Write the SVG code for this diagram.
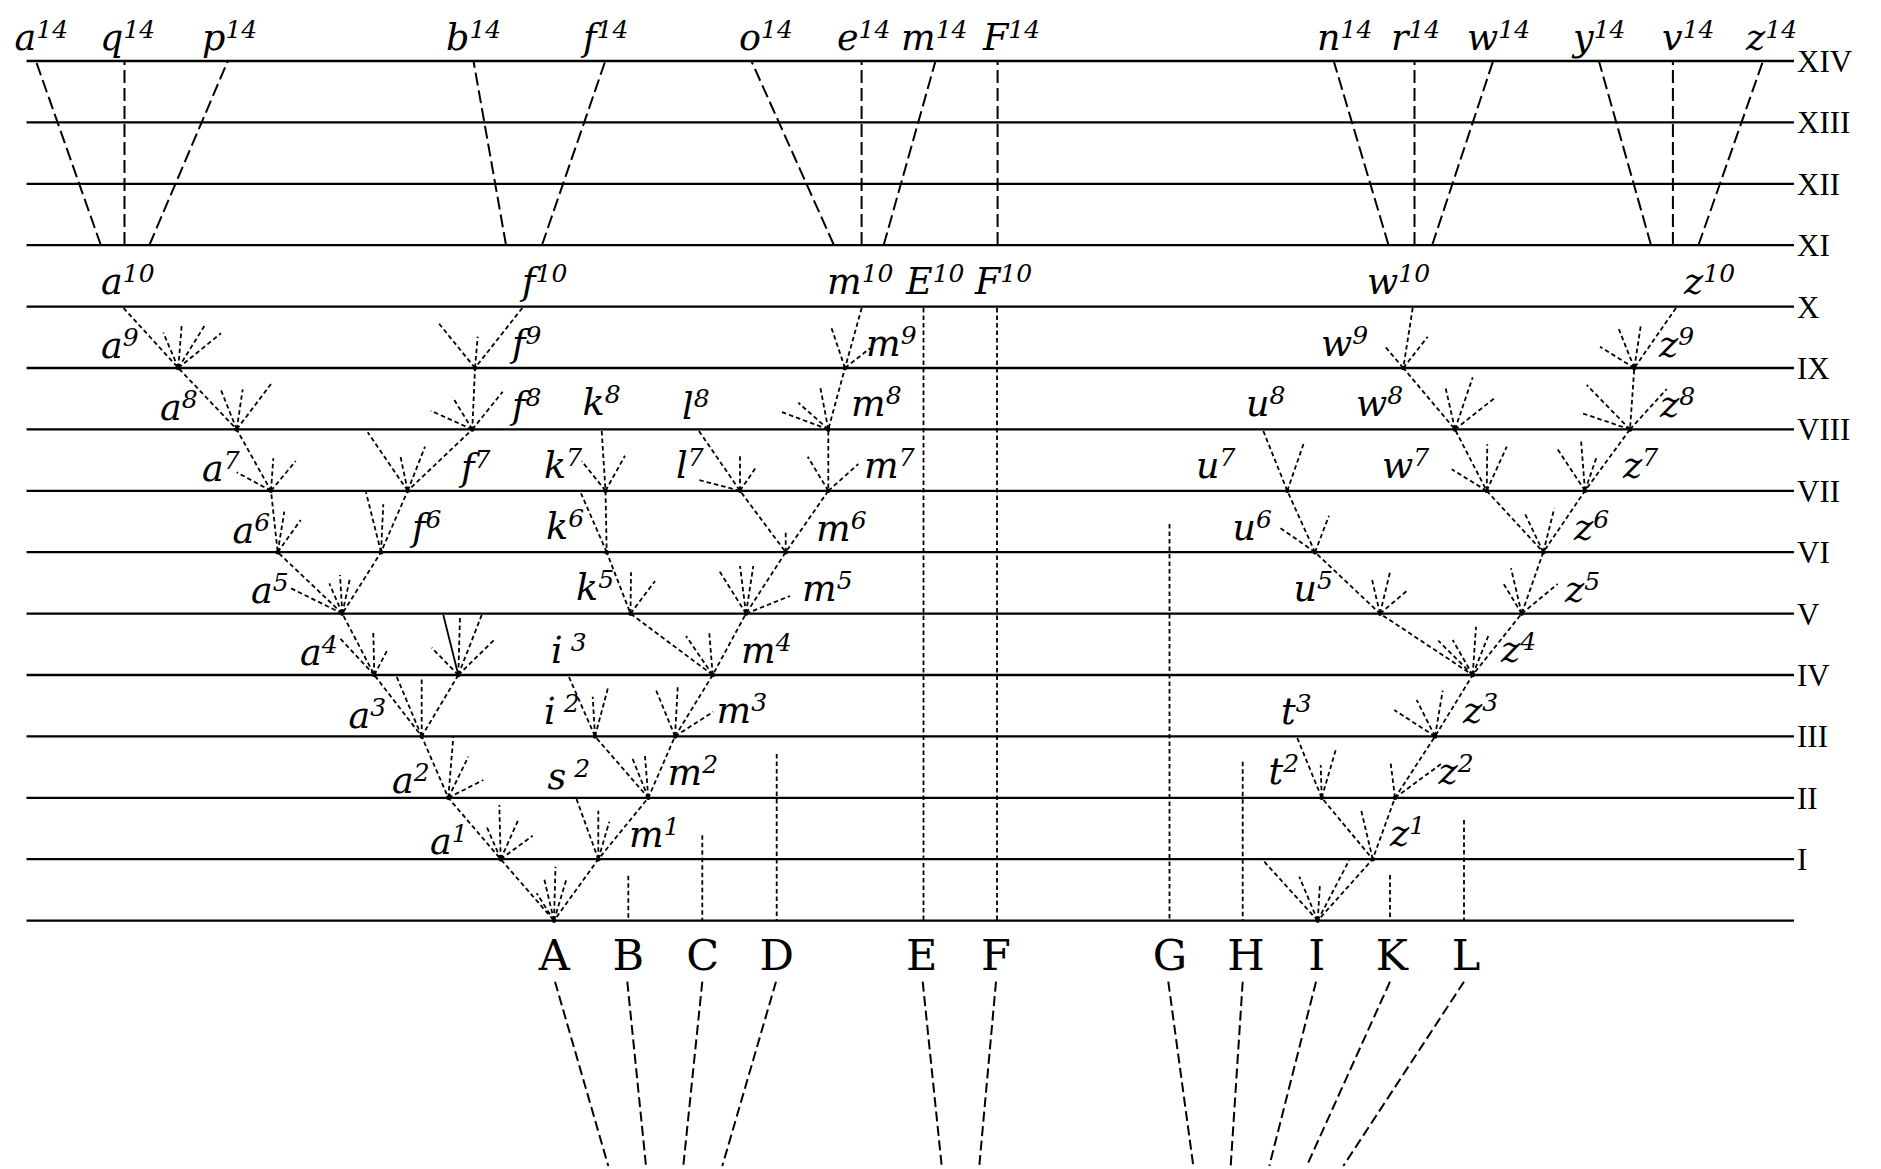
<svg xmlns="http://www.w3.org/2000/svg" width="1881" height="1169" viewBox="0 0 1881 1169">
<style>
.h{stroke:#000;stroke-width:2.3;fill:none}
.d{stroke:#000;stroke-width:1.8;stroke-dasharray:4.5 3;fill:none}
.s{stroke:#000;stroke-width:1.8;fill:none}
.ld{stroke:#000;stroke-width:2;stroke-dasharray:13 5;fill:none}
.bd{stroke:#000;stroke-width:2;stroke-dasharray:10 4.5;fill:none}
.lbl{font-family:"DejaVu Serif","Liberation Serif",serif;font-style:italic;font-size:36.5px;fill:#000}
.sup{font-size:25px}
.rn{font-family:"Liberation Serif","DejaVu Serif",serif;font-size:31px;fill:#000}
.bl{font-family:"DejaVu Serif","Liberation Serif",serif;font-size:43px;text-anchor:middle;fill:#000}
.dot{fill:#000}
</style>
<rect width="1881" height="1169" fill="#fff"/>
<g id="grid">
<path class="h" d="M26.5 61H1794M26.5 122.4H1794M26.5 183.8H1794M26.5 245.2H1794M26.5 306.6H1794M26.5 368H1794M26.5 429.4H1794M26.5 490.8H1794M26.5 552.2H1794M26.5 613.6H1794M26.5 675H1794M26.5 736.4H1794M26.5 797.8H1794M26.5 859.2H1794M26.5 920.6H1794"/>
<text class="rn" x="1797" y="72">XIV</text>
<text class="rn" x="1797" y="133.4">XIII</text>
<text class="rn" x="1797" y="194.8">XII</text>
<text class="rn" x="1797" y="256.2">XI</text>
<text class="rn" x="1797" y="317.6">X</text>
<text class="rn" x="1797" y="379">IX</text>
<text class="rn" x="1797" y="440.4">VIII</text>
<text class="rn" x="1797" y="501.8">VII</text>
<text class="rn" x="1797" y="563.2">VI</text>
<text class="rn" x="1797" y="624.6">V</text>
<text class="rn" x="1797" y="686">IV</text>
<text class="rn" x="1797" y="747.4">III</text>
<text class="rn" x="1797" y="808.8">II</text>
<text class="rn" x="1797" y="870.2">I</text>
</g>
<g id="connectors">
<path class="ld" d="M100.8 245L35.9 61M124.5 245L124.5 61M149.4 245L227.8 61M506 245L473.5 61M542 245L605.3 61M833.9 245L751.4 61M861.6 245L861.6 61M883.7 245L935.5 61M997.6 245L997.6 61M1388.5 245L1333.7 61M1414.5 245L1414.5 61M1432.2 245L1493.1 61M1651 245L1598.9 61M1672.9 245L1672.9 61M1698.5 245L1763 61"/>
<path class="d" d="M123.5 308L178.3 368L236.7 429.4L271 490.8L277.7 552.2L342.3 613.6L374.3 675L421.7 736.4L448.3 797.8L500.7 859.2L554 920.6"/>
<path class="d" d="M522.3 308L475 368L472.3 429.4L407.7 490.8L381 552.2L342.3 613.6"/>
<path class="d" d="M458.3 675L421.7 736.4"/>
<path class="d" d="M601.7 431L605.5 490.8L606.7 552.2L630.5 613.6L712.7 675"/>
<path class="d" d="M699 431L740 490.8L785.7 552.2"/>
<path class="d" d="M861.7 308L845 368L828.3 429.4L828.3 490.8L785.7 552.2L746 613.6L712.7 675L675 736.4L648.3 797.8L598.3 859.2L554 920.6"/>
<path class="d" d="M569 677L595 736.4L648.3 797.8"/>
<path class="d" d="M576.5 799L598.3 859.2"/>
<path class="d" d="M1412.7 308L1403.3 368L1455 429.4L1486.7 490.8L1543.3 552.2"/>
<path class="d" d="M1676 308L1634.3 368L1630 429.4L1585 490.8L1543.3 552.2L1521.7 613.6L1472.7 675L1435 736.4L1395 797.8L1372.7 859.2L1317.7 920.6"/>
<path class="d" d="M1263.3 431L1287.3 490.8L1315 552.2L1380 613.6L1472.7 675"/>
<path class="d" d="M1297.3 738L1321.7 797.8L1372.7 859.2"/>
<path class="s" d="M443.3 615L458.3 675"/>
<path class="d" d="M178.3 368L163.3 332.7M178.3 368L181.7 325M178.3 368L205 325M178.3 368L221 333.3
M236.7 429.4L220.7 389.3M236.7 429.4L242.7 389.3M236.7 429.4L271 384
M271 490.8L236.7 472.3M271 490.8L273.3 458.3M271 490.8L295.7 461
M277.7 552.2L284.3 511.7M277.7 552.2L300.7 520
M342.3 613.6L289 587.3M342.3 613.6L329.3 583.3M342.3 613.6L340 575M342.3 613.6L350 578
M374.3 675L340 638.3M374.3 675L373.3 632.3M374.3 675L387.7 649.3
M458.3 675L460 616.7M458.3 675L481.7 615M458.3 675L431.7 647.7M458.3 675L495 639
M421.7 736.4L396.7 676.7M421.7 736.4L421.7 676.7
M448.3 797.8L453.3 736.7M448.3 797.8L468.3 756.7M448.3 797.8L483.3 780
M500.7 859.2L486.7 826.7M500.7 859.2L499.3 805M500.7 859.2L519 818.3M500.7 859.2L532.7 835.7
M554 920.6L536.7 893.3M554 920.6L544 878M554 920.6L555.5 866.7M554 920.6L566.7 878.3
M475 368L438.3 322.7M475 368L477.7 336.7
M472.3 429.4L430.7 410.7M472.3 429.4L452.7 397.3M472.3 429.4L502.7 391.7
M407.7 490.8L367.7 432.3M407.7 490.8L400 454.3M407.7 490.8L425 446.7
M381 552.2L366 492.3M381 552.2L383.3 504.3
M605.5 490.8L581.7 461M605.5 490.8L625 455.7
M606.7 552.2L581 493.3
M630.5 613.6L631 572.3M630.5 613.6L655 581
M740 490.8L699 480M740 490.8L740 453.3M740 490.8L755.3 468.3
M845 368L830.7 325.7M845 368L870 348.3
M828.3 429.4L780.7 411.7M828.3 429.4L798.3 402.7M828.3 429.4L820 385.7
M828.3 490.8L807.7 456.7M828.3 490.8L858.3 464
M785.7 552.2L785.7 530
M746 613.6L718.3 569.3M746 613.6L740 566M746 613.6L753.3 566M746 613.6L790 596
M712.7 675L686 636M712.7 675L709.3 633.3
M675 736.4L656 690M675 736.4L677.7 687.3M675 736.4L713.3 711.7
M595 736.4L592.7 696.7M595 736.4L608.3 686.7
M648.3 797.8L631.7 756.7M648.3 797.8L645 756
M598.3 859.2L598.3 810.7M598.3 859.2L609.3 821.7
M1403.3 368L1385.7 347.3M1403.3 368L1427.7 336.7
M1455 429.4L1445.7 388.3M1455 429.4L1472.7 377.3M1455 429.4L1494.3 398.3
M1486.7 490.8L1451.7 469.3M1486.7 490.8L1487.3 444.3M1486.7 490.8L1506.7 446.7
M1543.3 552.2L1524.3 512.3M1543.3 552.2L1554.3 508.3
M1634.3 368L1600 346.7M1634.3 368L1618.3 327.7M1634.3 368L1641 324.3
M1630 429.4L1582.3 413.3M1630 429.4L1586.7 385M1630 429.4L1666.7 389
M1585 490.8L1557.7 449.3M1585 490.8L1581 440M1585 490.8L1596.7 456.7
M1521.7 613.6L1503.3 583.3M1521.7 613.6L1511 568.3M1521.7 613.6L1557.7 584
M1287.3 490.8L1304.3 441.7
M1315 552.2L1279.3 527.3M1315 552.2L1329 515.7
M1380 613.6L1371.7 578.3M1380 613.6L1390 572.3M1380 613.6L1406.7 591
M1472.7 675L1438.3 640.7M1472.7 675L1452.7 640M1472.7 675L1476 626.7M1472.7 675L1489.3 633.3
M1435 736.4L1394.3 710M1435 736.4L1416.7 700M1435 736.4L1442.7 690.7
M1395 797.8L1390.7 763.3M1395 797.8L1441 764
M1321.7 797.8L1320.7 765M1321.7 797.8L1336 749
M1372.7 859.2L1360.7 808.3
M1317.7 920.6L1264.3 861.7M1317.7 920.6L1299.3 876.7M1317.7 920.6L1320 883.3M1317.7 920.6L1349.3 860"/>
<path class="d" d="M923.5 308V920.6M997 308V920.6M628.3 875.7V920.6M702.3 835.3V920.6M776.7 754V920.6M1169.5 524V920.6M1242.7 761.7V920.6M1390 875V920.6M1464 820V920.6"/>
<path class="bd" d="M555 981.7L608.3 1166M627.3 981.7L646 1166M702.3 981.7L683.3 1166M776 981.7L722.3 1166M922.7 981.7L941.7 1166M996 981.7L979.3 1166M1168.3 981.7L1193.3 1166M1242.7 981.7L1230.7 1166M1316 981.7L1269.3 1166M1390 981.7L1306.7 1166M1464 981.7L1343.3 1166"/>
<g class="dot">
<circle cx="178.3" cy="368" r="2.3"/><circle cx="236.7" cy="429.4" r="2.3"/><circle cx="271" cy="490.8" r="2.3"/><circle cx="277.7" cy="552.2" r="2.3"/><circle cx="342.3" cy="613.6" r="2.3"/><circle cx="374.3" cy="675" r="2.3"/><circle cx="458.3" cy="675" r="2.3"/><circle cx="421.7" cy="736.4" r="2.3"/><circle cx="448.3" cy="797.8" r="2.3"/><circle cx="500.7" cy="859.2" r="2.3"/><circle cx="554" cy="920.6" r="2.3"/>
<circle cx="475" cy="368" r="2.3"/><circle cx="472.3" cy="429.4" r="2.3"/><circle cx="407.7" cy="490.8" r="2.3"/><circle cx="381" cy="552.2" r="2.3"/>
<circle cx="605.5" cy="490.8" r="2.3"/><circle cx="606.7" cy="552.2" r="2.3"/><circle cx="630.5" cy="613.6" r="2.3"/><circle cx="740" cy="490.8" r="2.3"/>
<circle cx="845" cy="368" r="2.3"/><circle cx="828.3" cy="429.4" r="2.3"/><circle cx="828.3" cy="490.8" r="2.3"/><circle cx="785.7" cy="552.2" r="2.3"/><circle cx="746" cy="613.6" r="2.3"/><circle cx="712.7" cy="675" r="2.3"/><circle cx="675" cy="736.4" r="2.3"/><circle cx="648.3" cy="797.8" r="2.3"/><circle cx="598.3" cy="859.2" r="2.3"/><circle cx="595" cy="736.4" r="2.3"/>
<circle cx="1403.3" cy="368" r="2.3"/><circle cx="1455" cy="429.4" r="2.3"/><circle cx="1486.7" cy="490.8" r="2.3"/><circle cx="1543.3" cy="552.2" r="2.3"/>
<circle cx="1634.3" cy="368" r="2.3"/><circle cx="1630" cy="429.4" r="2.3"/><circle cx="1585" cy="490.8" r="2.3"/><circle cx="1521.7" cy="613.6" r="2.3"/><circle cx="1472.7" cy="675" r="2.3"/><circle cx="1435" cy="736.4" r="2.3"/><circle cx="1395" cy="797.8" r="2.3"/><circle cx="1372.7" cy="859.2" r="2.3"/><circle cx="1317.7" cy="920.6" r="2.3"/>
<circle cx="1287.3" cy="490.8" r="2.3"/><circle cx="1315" cy="552.2" r="2.3"/><circle cx="1380" cy="613.6" r="2.3"/><circle cx="1321.7" cy="797.8" r="2.3"/>
</g>
</g>
<g id="n-a14"><text class="lbl" x="14.5" y="50">a<tspan class="sup" dy="-12">14</tspan></text></g>
<g id="n-q14"><text class="lbl" x="100" y="50">q<tspan class="sup" dy="-12">14</tspan></text></g>
<g id="n-p14"><text class="lbl" x="202" y="50">p<tspan class="sup" dy="-12">14</tspan></text></g>
<g id="n-b14"><text class="lbl" x="446" y="50">b<tspan class="sup" dy="-12">14</tspan></text></g>
<g id="n-f14"><text class="lbl" x="583" y="50">f<tspan class="sup" dy="-12">14</tspan></text></g>
<g id="n-o14"><text class="lbl" x="739" y="50">o<tspan class="sup" dy="-12">14</tspan></text></g>
<g id="n-e14"><text class="lbl" x="837" y="50">e<tspan class="sup" dy="-12">14</tspan></text></g>
<g id="n-m14"><text class="lbl" x="901" y="50">m<tspan class="sup" dy="-12">14</tspan></text></g>
<g id="n-F14"><text class="lbl" x="983" y="50">F<tspan class="sup" dy="-12">14</tspan></text></g>
<g id="n-n14"><text class="lbl" x="1317" y="50">n<tspan class="sup" dy="-12">14</tspan></text></g>
<g id="n-r14"><text class="lbl" x="1391" y="50">r<tspan class="sup" dy="-12">14</tspan></text></g>
<g id="n-w14"><text class="lbl" x="1467" y="50">w<tspan class="sup" dy="-12">14</tspan></text></g>
<g id="n-y14"><text class="lbl" x="1573" y="50">y<tspan class="sup" dy="-12">14</tspan></text></g>
<g id="n-v14"><text class="lbl" x="1662" y="50">v<tspan class="sup" dy="-12">14</tspan></text></g>
<g id="n-z14"><text class="lbl" x="1746" y="50">z<tspan class="sup" dy="-12">14</tspan></text></g>
<g id="n-a10"><text class="lbl" x="101" y="294">a<tspan class="sup" dy="-12">10</tspan></text></g>
<g id="n-f10"><text class="lbl" x="522" y="294">f<tspan class="sup" dy="-12">10</tspan></text></g>
<g id="n-m10"><text class="lbl" x="827" y="294">m<tspan class="sup" dy="-12">10</tspan></text></g>
<g id="n-E10"><text class="lbl" x="906" y="294">E<tspan class="sup" dy="-12">10</tspan></text></g>
<g id="n-F10"><text class="lbl" x="975" y="294">F<tspan class="sup" dy="-12">10</tspan></text></g>
<g id="n-w10"><text class="lbl" x="1367" y="294">w<tspan class="sup" dy="-12">10</tspan></text></g>
<g id="n-z10"><text class="lbl" x="1684" y="294">z<tspan class="sup" dy="-12">10</tspan></text></g>
<g id="n-a9"><text class="lbl" x="101" y="358">a<tspan class="sup" dy="-12">9</tspan></text></g>
<g id="n-f9"><text class="lbl" x="512" y="356">f<tspan class="sup" dy="-12">9</tspan></text></g>
<g id="n-w9"><text class="lbl" x="1321" y="356">w<tspan class="sup" dy="-12">9</tspan></text></g>
<g id="n-z9"><text class="lbl" x="1659" y="357">z<tspan class="sup" dy="-12">9</tspan></text></g>
<g id="n-m9"><text class="lbl" x="866" y="356">m<tspan class="sup" dy="-12">9</tspan></text></g>
<g id="n-a8"><text class="lbl" x="160" y="420">a<tspan class="sup" dy="-12">8</tspan></text></g>
<g id="n-f8"><text class="lbl" x="512" y="418">f<tspan class="sup" dy="-12">8</tspan></text></g>
<g id="n-k8"><text class="lbl" x="582.5" y="415">k<tspan class="sup" dy="-12">8</tspan></text></g>
<g id="n-l8"><text class="lbl" x="682" y="419">l<tspan class="sup" dy="-12">8</tspan></text></g>
<g id="n-m8"><text class="lbl" x="851" y="416">m<tspan class="sup" dy="-12">8</tspan></text></g>
<g id="n-u8"><text class="lbl" x="1246" y="416">u<tspan class="sup" dy="-12">8</tspan></text></g>
<g id="n-w8"><text class="lbl" x="1356" y="416">w<tspan class="sup" dy="-12">8</tspan></text></g>
<g id="n-z8"><text class="lbl" x="1660" y="417">z<tspan class="sup" dy="-12">8</tspan></text></g>
<g id="n-a7"><text class="lbl" x="202" y="481">a<tspan class="sup" dy="-12">7</tspan></text></g>
<g id="n-f7"><text class="lbl" x="461" y="480">f<tspan class="sup" dy="-12">7</tspan></text></g>
<g id="n-k7"><text class="lbl" x="544" y="478">k<tspan class="sup" dy="-12">7</tspan></text></g>
<g id="n-l7"><text class="lbl" x="676" y="478">l<tspan class="sup" dy="-12">7</tspan></text></g>
<g id="n-m7"><text class="lbl" x="864" y="478">m<tspan class="sup" dy="-12">7</tspan></text></g>
<g id="n-u7"><text class="lbl" x="1196" y="478">u<tspan class="sup" dy="-12">7</tspan></text></g>
<g id="n-w7"><text class="lbl" x="1382" y="478">w<tspan class="sup" dy="-12">7</tspan></text></g>
<g id="n-z7"><text class="lbl" x="1623" y="478">z<tspan class="sup" dy="-12">7</tspan></text></g>
<g id="n-a6"><text class="lbl" x="232.5" y="542.7">a<tspan class="sup" dy="-12">6</tspan></text></g>
<g id="n-f6"><text class="lbl" x="412" y="540">f<tspan class="sup" dy="-12">6</tspan></text></g>
<g id="n-k6"><text class="lbl" x="546" y="538.5">k<tspan class="sup" dy="-12">6</tspan></text></g>
<g id="n-m6"><text class="lbl" x="816" y="540.7">m<tspan class="sup" dy="-12">6</tspan></text></g>
<g id="n-u6"><text class="lbl" x="1232.5" y="540">u<tspan class="sup" dy="-12">6</tspan></text></g>
<g id="n-z6"><text class="lbl" x="1574" y="539.5">z<tspan class="sup" dy="-12">6</tspan></text></g>
<g id="n-a5"><text class="lbl" x="251" y="603.3">a<tspan class="sup" dy="-12">5</tspan></text></g>
<g id="n-k5"><text class="lbl" x="576" y="600">k<tspan class="sup" dy="-12">5</tspan></text></g>
<g id="n-m5"><text class="lbl" x="802" y="600.7">m<tspan class="sup" dy="-12">5</tspan></text></g>
<g id="n-u5"><text class="lbl" x="1293.5" y="600.7">u<tspan class="sup" dy="-12">5</tspan></text></g>
<g id="n-z5"><text class="lbl" x="1565" y="601.7">z<tspan class="sup" dy="-12">5</tspan></text></g>
<g id="n-a4"><text class="lbl" x="300" y="665">a<tspan class="sup" dy="-12">4</tspan></text></g>
<g id="n-i3"><text class="lbl" x="551" y="663.3">i<tspan class="sup" dy="-12"> 3</tspan></text></g>
<g id="n-m4"><text class="lbl" x="741" y="662.7">m<tspan class="sup" dy="-12">4</tspan></text></g>
<g id="n-z4"><text class="lbl" x="1501" y="661.7">z<tspan class="sup" dy="-12">4</tspan></text></g>
<g id="n-a3"><text class="lbl" x="348.5" y="727.7">a<tspan class="sup" dy="-12">3</tspan></text></g>
<g id="n-i2"><text class="lbl" x="544" y="724">i<tspan class="sup" dy="-12"> 2</tspan></text></g>
<g id="n-m3"><text class="lbl" x="716.5" y="723.3">m<tspan class="sup" dy="-12">3</tspan></text></g>
<g id="n-t3"><text class="lbl" x="1281" y="724">t<tspan class="sup" dy="-12">3</tspan></text></g>
<g id="n-z3"><text class="lbl" x="1463" y="722.7">z<tspan class="sup" dy="-12">3</tspan></text></g>
<g id="n-a2"><text class="lbl" x="392" y="792.7">a<tspan class="sup" dy="-12">2</tspan></text></g>
<g id="n-s2"><text class="lbl" x="547.5" y="789">s<tspan class="sup" dy="-12"> 2</tspan></text></g>
<g id="n-m2"><text class="lbl" x="667.5" y="785">m<tspan class="sup" dy="-12">2</tspan></text></g>
<g id="n-t2"><text class="lbl" x="1268.5" y="784.3">t<tspan class="sup" dy="-12">2</tspan></text></g>
<g id="n-z2"><text class="lbl" x="1438.5" y="784.3">z<tspan class="sup" dy="-12">2</tspan></text></g>
<g id="n-a1"><text class="lbl" x="430" y="854">a<tspan class="sup" dy="-12">1</tspan></text></g>
<g id="n-m1"><text class="lbl" x="629" y="846.7">m<tspan class="sup" dy="-12">1</tspan></text></g>
<g id="n-z1"><text class="lbl" x="1390" y="846">z<tspan class="sup" dy="-12">1</tspan></text></g>
<g id="n-A"><text class="bl" x="554.3" y="970">A</text></g>
<g id="n-B"><text class="bl" x="628.3" y="970">B</text></g>
<g id="n-C"><text class="bl" x="702.7" y="970">C</text></g>
<g id="n-D"><text class="bl" x="776.7" y="970">D</text></g>
<g id="n-E"><text class="bl" x="921.7" y="970">E</text></g>
<g id="n-F"><text class="bl" x="996" y="970">F</text></g>
<g id="n-G"><text class="bl" x="1170" y="970">G</text></g>
<g id="n-H"><text class="bl" x="1246" y="970">H</text></g>
<g id="n-I"><text class="bl" x="1316.7" y="970">I</text></g>
<g id="n-K"><text class="bl" x="1391.7" y="970">K</text></g>
<g id="n-L"><text class="bl" x="1466" y="970">L</text></g>
</svg>
